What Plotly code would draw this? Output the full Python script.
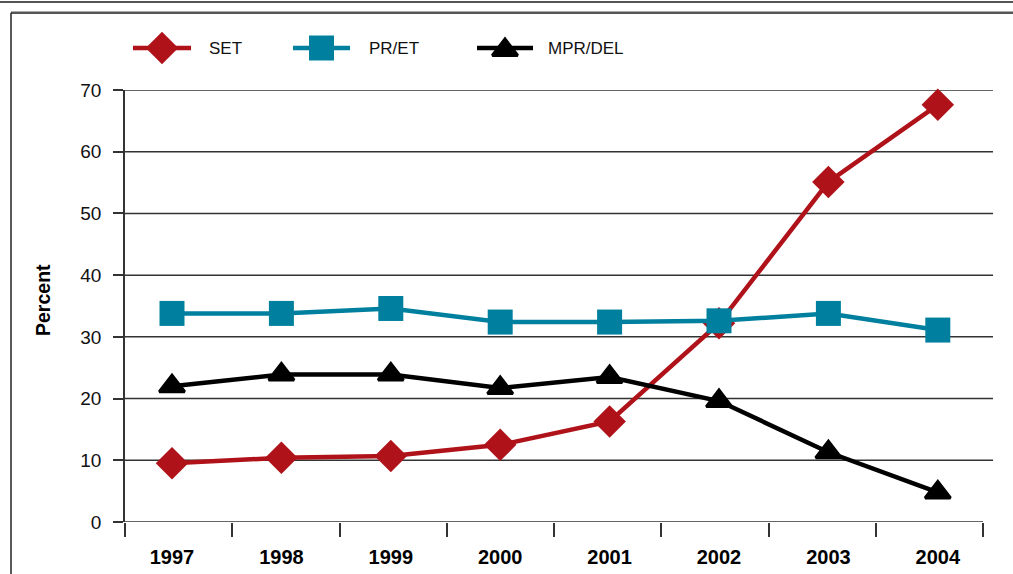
import plotly.graph_objects as go

# ---- data ----
years = ["1997", "1998", "1999", "2000", "2001", "2002", "2003", "2004"]
set_pct = [9.5, 10.4, 10.7, 12.5, 16.3, 32.2, 55.1, 67.6]
pret_pct = [33.8, 33.8, 34.6, 32.4, 32.4, 32.6, 33.8, 31.1]
mprdel_pct = [22.0, 23.9, 23.9, 21.7, 23.5, 19.6, 11.3, 4.8]
y_ticks = [0, 10, 20, 30, 40, 50, 60, 70]

RED = "#B0121A"
TEAL = "#00809E"
BLACK = "#000000"
GRID = "#333333"
FONT = "Liberation Sans, Arial, Helvetica, sans-serif"

W, H = 1013, 574

series = [
    ("SET", set_pct, RED, "diamond", 25, 0),
    ("PR/ET", pret_pct, TEAL, "square", 25, 0),
    ("MPR/DEL", mprdel_pct, BLACK, "triangle-up", 22, 3),
]

xs = list(range(len(years)))
fig = go.Figure()

for name, vals, color, sym, size, lw in series:
    fig.add_trace(go.Scatter(
        x=xs, y=vals, name=name, mode="lines+markers",
        line=dict(color=color, width=4.5),
        marker=dict(symbol=sym, size=size, color=color,
                    line=dict(color=color, width=lw)),
        showlegend=False, cliponaxis=False,
    ))

# ---- hand-drawn legend on a pixel-space overlay axis ----
legend_items = [
    # name, line start, line end, text x
    ("SET", 133, 191, 207),
    ("PR/ET", 293, 350, 367),
    ("MPR/DEL", 477, 533, 546),
]
LEG_Y = 48
for (name, x0, x1, tx), (_, _, color, sym, size, lw) in zip(legend_items, series):
    fig.add_trace(go.Scatter(
        x=[x0, x1], y=[LEG_Y, LEG_Y], mode="lines",
        line=dict(color=color, width=4.5),
        xaxis="x2", yaxis="y2", showlegend=False, hoverinfo="skip",
    ))
    my = LEG_Y + 2 if sym == "triangle-up" else LEG_Y
    fig.add_trace(go.Scatter(
        x=[(x0 + x1) / 2], y=[my], mode="markers",
        marker=dict(symbol=sym, size=size, color=color,
                    line=dict(color=color, width=lw)),
        xaxis="x2", yaxis="y2", showlegend=False, hoverinfo="skip",
    ))
    fig.add_annotation(
        x=tx, y=LEG_Y, xref="x2", yref="y2", text=name, showarrow=False,
        xanchor="left", yanchor="middle",
        font=dict(family=FONT, size=17, color="#111111"),
    )

# y-axis title
fig.add_annotation(
    x=43, y=300, xref="x2", yref="y2", text="<b>Percent</b>",
    textangle=-90, showarrow=False, xanchor="center", yanchor="middle",
    font=dict(family=FONT, size=19.5, color="#000000"),
)

# ---- axis geometry ----
px_per_cat = 109.4
first_x_px = 172
left_px, right_px, axis_end_px = 125, 993, 983
x_lo = (left_px - first_x_px) / px_per_cat
x_hi = (right_px - first_x_px) / px_per_cat
x_axis_end = (axis_end_px - first_x_px) / px_per_cat
cat_step = (axis_end_px - left_px) / len(years) / px_per_cat

top_px, bottom_px = 90, 522

shapes = []
# horizontal gridlines (above zero) across the plot area
for v in y_ticks[1:]:
    shapes.append(dict(type="line", xref="paper", yref="y",
                       x0=left_px / W, x1=right_px / W, y0=v, y1=v,
                       line=dict(color=GRID, width=1.5), layer="below"))
# category axis line
shapes.append(dict(type="line", xref="x", yref="y",
                   x0=x_lo, x1=x_axis_end, y0=0, y1=0,
                   line=dict(color=GRID, width=1.5), layer="below"))
# page frame
shapes.append(dict(type="line", xref="paper", yref="paper",
                   x0=0, x1=1, y0=1 - 2 / H, y1=1 - 2 / H,
                   line=dict(color="#555555", width=2)))
shapes.append(dict(type="line", xref="paper", yref="paper",
                   x0=11 / W, x1=1, y0=1 - 12.7 / H, y1=1 - 12.7 / H,
                   line=dict(color="#555555", width=2.5)))
shapes.append(dict(type="line", xref="paper", yref="paper",
                   x0=11 / W, x1=11 / W, y0=0, y1=1 - 12.7 / H,
                   line=dict(color="#222222", width=1.5)))

fig.update_layout(
    template="none",
    width=W, height=H, autosize=False,
    margin=dict(l=0, r=0, t=0, b=0, pad=0),
    paper_bgcolor="white", plot_bgcolor="rgba(0,0,0,0)",
    font=dict(family=FONT, color="#111111"),
    shapes=shapes,
    xaxis=dict(
        domain=[left_px / W, right_px / W], range=[x_lo, x_hi],
        tickmode="array", tickvals=xs, ticktext=years,
        ticks="", showgrid=False, zeroline=False, showline=False,
        tickfont=dict(family=FONT, size=20, color="#000000", weight="bold"),
        ticklabelstandoff=21, automargin=False,
        minor=dict(ticks="outside", tick0=x_lo, dtick=cat_step,
                   ticklen=14, tickwidth=1.5, tickcolor=GRID, showgrid=False),
        anchor="y", fixedrange=True,
    ),
    yaxis=dict(
        domain=[1 - bottom_px / H, 1 - top_px / H], range=[0, 70],
        tickmode="array", tickvals=y_ticks,
        ticks="outside", ticklen=10, tickwidth=1.5, tickcolor=GRID,
        showgrid=False, zeroline=False,
        showline=True, linecolor=GRID, linewidth=1.5,
        tickfont=dict(family=FONT, size=19, color="#111111"),
        ticklabelstandoff=8, automargin=False,
        anchor="x", fixedrange=True,
    ),
    xaxis2=dict(domain=[0, 1], range=[0, W], visible=False,
                anchor="y2", fixedrange=True, automargin=False),
    yaxis2=dict(domain=[0, 1], range=[H, 0], visible=False,
                anchor="x2", fixedrange=True, automargin=False),
    showlegend=False,
)

fig.write_html("out.html")
